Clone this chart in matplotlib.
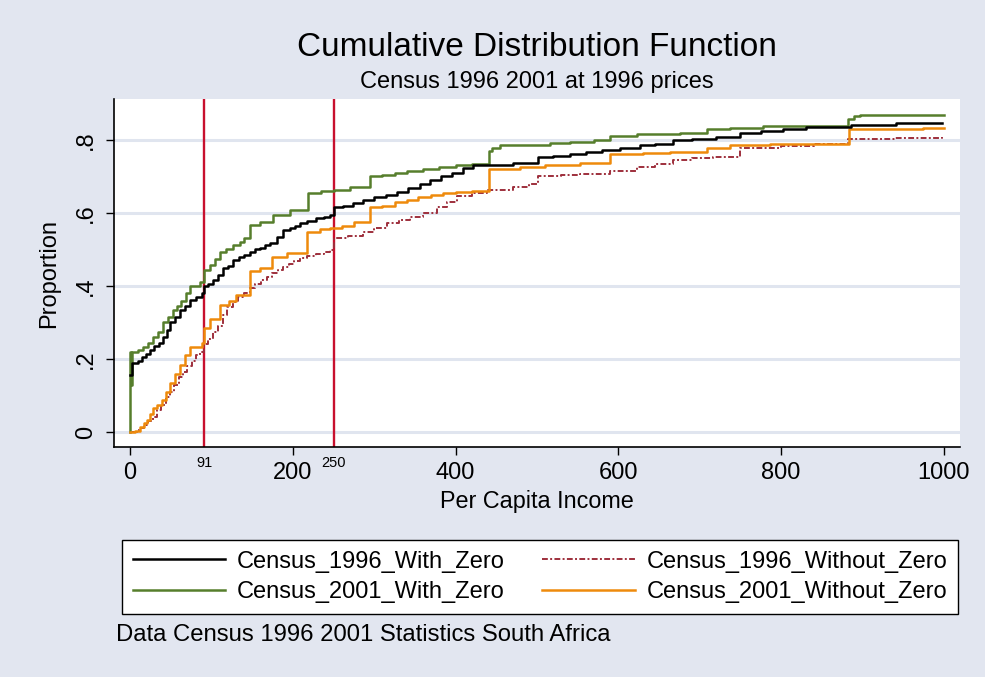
import matplotlib
matplotlib.use("Agg")
import matplotlib.pyplot as plt
from matplotlib.transforms import blended_transform_factory

plt.rcParams['font.family'] = ['Liberation Sans', 'DejaVu Sans']

# ---------------- data (step points) ----------------
b96_with_x = [0, 3, 10, 15, 20, 25, 30, 35, 41, 45, 49, 55, 61, 67, 74, 81, 88, 91, 96, 102, 108,
              114, 120, 127, 134, 140, 147, 154, 160, 166, 172, 180, 188, 196, 203, 209, 218, 228,
              238, 246, 250, 262, 274, 286, 300, 314, 328, 342, 356, 369, 382, 396, 409, 421, 470,
              501, 520, 540, 560, 580, 602, 626, 645, 667, 690, 720, 749, 775, 802, 830, 886, 941, 997]
b96_with_y = [0.155, 0.19, 0.195, 0.205, 0.215, 0.225, 0.235, 0.245, 0.26, 0.28, 0.30, 0.315, 0.334,
              0.345, 0.362, 0.37, 0.38, 0.40, 0.405, 0.416, 0.43, 0.449, 0.455, 0.47, 0.478, 0.485,
              0.493, 0.50, 0.505, 0.512, 0.517, 0.535, 0.553, 0.56, 0.565, 0.572, 0.578, 0.585, 0.59,
              0.595, 0.615, 0.62, 0.628, 0.636, 0.643, 0.65, 0.658, 0.668, 0.68, 0.69, 0.70, 0.71,
              0.723, 0.73, 0.737, 0.753, 0.757, 0.762, 0.768, 0.772, 0.778, 0.786, 0.79, 0.80, 0.803,
              0.808, 0.819, 0.823, 0.83, 0.835, 0.84, 0.846, 0.846]

c01_with_x = [0, 0.5, 1.5, 2.5, 10, 16, 22, 28, 34, 41, 47, 53, 58, 63, 69, 74, 86, 91, 98, 104, 110,
              118, 127, 135, 140, 147, 160, 176, 197, 219, 235, 250, 270, 295, 310, 325, 340, 360, 380,
              400, 420, 441, 445, 455, 480, 516, 540, 570, 590, 623, 650, 676, 709, 737, 778, 882, 890,
              897, 1000]
c01_with_y = [0.0, 0.22, 0.13, 0.22, 0.225, 0.233, 0.245, 0.26, 0.275, 0.30, 0.315, 0.334, 0.345,
              0.36, 0.38, 0.40, 0.41, 0.444, 0.457, 0.475, 0.493, 0.50, 0.512, 0.52, 0.53, 0.567,
              0.575, 0.595, 0.608, 0.655, 0.66, 0.663, 0.67, 0.70, 0.705, 0.71, 0.715, 0.72, 0.725,
              0.73, 0.735, 0.77, 0.778, 0.785, 0.787, 0.792, 0.795, 0.80, 0.81, 0.815, 0.817, 0.82,
              0.83, 0.833, 0.838, 0.858, 0.865, 0.868, 0.868]

b96_without_x = [3, 8, 12, 17, 22, 28, 33, 38, 44, 49, 54, 60, 65, 70, 76, 81, 86, 91, 96, 102, 108,
                 114, 119, 126, 133, 140, 147, 154, 161, 168, 175, 182, 188, 195, 202, 209, 218, 228,
                 238, 246, 250, 268, 286, 300, 316, 330, 344, 360, 377, 390, 402, 420, 439, 471, 490,
                 501, 530, 553, 590, 623, 645, 667, 690, 716, 749, 800, 840, 882, 940, 997]
b96_without_y = [0.0, 0.005, 0.01, 0.02, 0.03, 0.04, 0.06, 0.075, 0.095, 0.11, 0.13, 0.15, 0.165,
                 0.18, 0.195, 0.21, 0.22, 0.24, 0.255, 0.275, 0.29, 0.32, 0.343, 0.355, 0.37, 0.38,
                 0.394, 0.405, 0.415, 0.425, 0.435, 0.445, 0.452, 0.46, 0.468, 0.476, 0.482, 0.488,
                 0.494, 0.499, 0.53, 0.538, 0.548, 0.56, 0.572, 0.58, 0.59, 0.60, 0.617, 0.63, 0.645,
                 0.655, 0.663, 0.672, 0.68, 0.70, 0.703, 0.707, 0.715, 0.726, 0.735, 0.745, 0.75,
                 0.753, 0.778, 0.784, 0.79, 0.803, 0.806, 0.808]

c01_without_x = [0, 6, 12, 17, 21, 25, 28, 33, 39, 44, 49, 55, 61, 67, 74, 88, 91, 98, 110, 122, 130,
                 147, 160, 174, 193, 217, 233, 246, 260, 275, 295, 310, 325, 340, 354, 370, 385, 400,
                 420, 441, 479, 510, 553, 590, 630, 663, 709, 737, 786, 883, 974, 1000]
c01_without_y = [0.0, 0.003, 0.015, 0.025, 0.033, 0.05, 0.066, 0.075, 0.088, 0.11, 0.134, 0.16,
                 0.184, 0.21, 0.233, 0.244, 0.285, 0.31, 0.348, 0.36, 0.375, 0.44, 0.45, 0.48, 0.49,
                 0.548, 0.555, 0.559, 0.565, 0.575, 0.616, 0.62, 0.63, 0.635, 0.644, 0.65, 0.655,
                 0.658, 0.66, 0.72, 0.726, 0.73, 0.737, 0.762, 0.765, 0.767, 0.778, 0.786, 0.79,
                 0.83, 0.833, 0.833]

ref_lines = [91, 250]
x_ticks = [0, 200, 400, 600, 800, 1000]
y_ticks = [0, 0.2, 0.4, 0.6, 0.8]
y_tick_labels = ["0", ".2", ".4", ".6", ".8"]
series_labels = ["Census_1996_With_Zero", "Census_2001_With_Zero",
                 "Census_1996_Without_Zero", "Census_2001_Without_Zero"]

# ---------------- figure ----------------
bg = '#E2E6F0'
W, H = 985, 677
fig = plt.figure(figsize=(W / 100, H / 100), dpi=100, facecolor=bg)
ax = fig.add_axes([114 / W, 1 - 447 / H, (960 - 114) / W, (447 - 99) / H])
ax.set_facecolor('white')

for yv in y_ticks:
    ax.axhline(yv, color='#E0E5EF', lw=2.2, zorder=0)

for xv in ref_lines:
    ax.axvline(xv, color='#C8102E', lw=1.7, zorder=1)

h1, = ax.plot(b96_with_x, b96_with_y, drawstyle='steps-post', color='black', lw=1.8, zorder=4)
h2, = ax.plot(c01_with_x, c01_with_y, drawstyle='steps-post', color='#567E2C', lw=1.8, zorder=3)
h3, = ax.plot(b96_without_x, b96_without_y, drawstyle='steps-post', color='#9E2F3C', lw=1.4,
              linestyle=(0, (3, 1.2, 1, 1.2)), zorder=2)
h4, = ax.plot(c01_without_x, c01_without_y, drawstyle='steps-post', color='#EE8A0C', lw=1.8, zorder=3)

ax.set_xlim(-19.7, 1019.7)
ax.set_ylim(-0.041, 0.912)

for s in ['top', 'right']:
    ax.spines[s].set_visible(False)
for s in ['left', 'bottom']:
    ax.spines[s].set_color('black')
    ax.spines[s].set_linewidth(1.2)

ax.set_xticks(x_ticks)
ax.set_xticklabels([str(v) for v in x_ticks], fontsize=17)
ax.set_yticks(y_ticks)
ax.set_yticklabels(y_tick_labels, fontsize=17, rotation=90, va='center')
ax.tick_params(axis='x', direction='out', length=6, width=1.0, color='black', pad=5)
ax.tick_params(axis='y', direction='out', length=6, width=1.0, color='black', pad=6)

trans = blended_transform_factory(ax.transData, ax.transAxes)
for xv in ref_lines:
    ax.text(xv, -0.025, str(xv), transform=trans, ha='center', va='top', fontsize=10.5)

ax.set_xlabel("Per Capita Income", fontsize=16.8, labelpad=4)
ax.set_ylabel("Proportion", fontsize=17, labelpad=11)

fig.text(537 / W, 1 - 47 / H, "Cumulative Distribution Function", ha='center', va='center',
         fontsize=24)
fig.text(537 / W, 1 - 82 / H, "Census 1996 2001 at 1996 prices", ha='center', va='center',
         fontsize=17)

leg = fig.legend([h1, h2, h3, h4], series_labels, ncol=2, loc='center',
                 bbox_to_anchor=(540 / W, 1 - 577 / H),
                 fontsize=17, frameon=True, fancybox=False, framealpha=1,
                 edgecolor='black', handlelength=3.9, handletextpad=0.5, borderpad=0.45,
                 labelspacing=0.36, columnspacing=1.6, borderaxespad=0)
leg.get_frame().set_linewidth(1.0)

fig.text(116 / W, 1 - 635 / H, "Data Census 1996 2001 Statistics South Africa", ha='left',
         va='center', fontsize=17.2)

fig.savefig("out.png", dpi=100, facecolor=bg)
